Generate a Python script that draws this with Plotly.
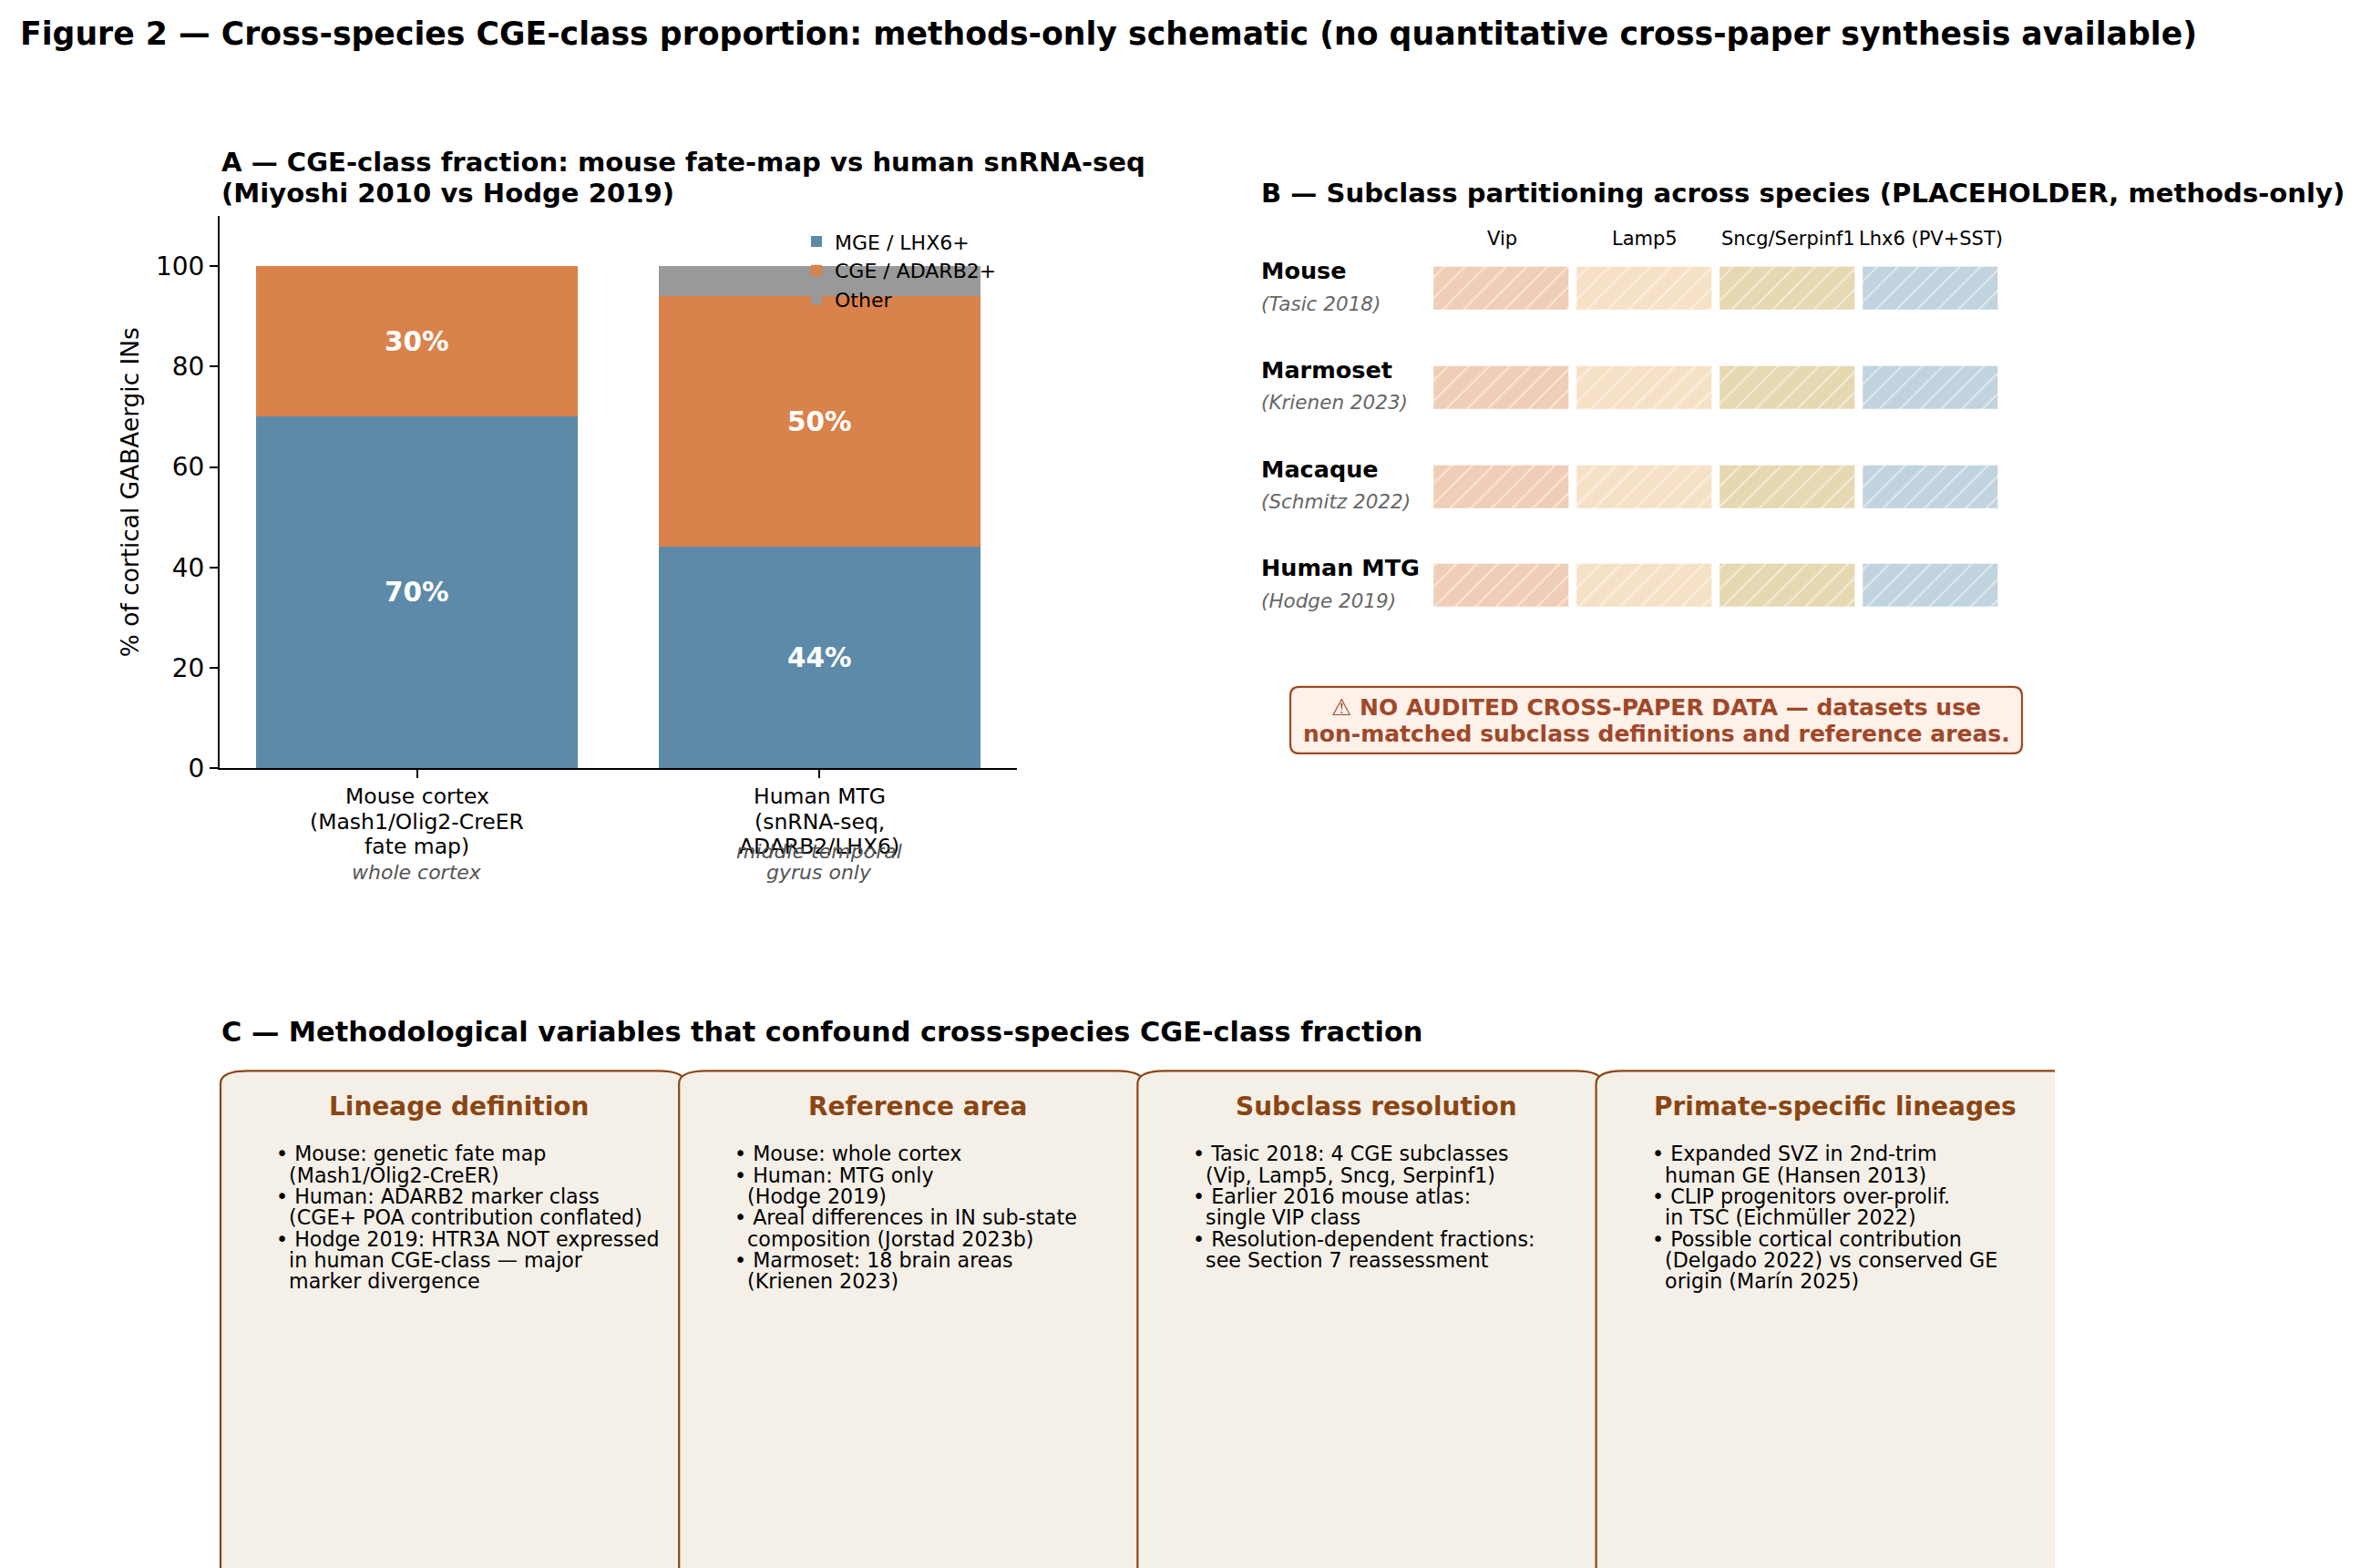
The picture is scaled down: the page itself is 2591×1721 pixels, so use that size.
import plotly.graph_objects as go

W, H = 2591, 1721
HR = 1702  # effective drawn height observed in the renderer
FONT = "DejaVu Sans"


def px(x):
    return x / W


def py(y):
    return 1 - y / HR


# ---------------- data ----------------
categories_A = ["Mouse cortex\n(Mash1/Olig2-CreER\nfate map)", "Human MTG\n(snRNA-seq,\nADARB2/LHX6)"]
notes_A = ["whole cortex", "middle temporal\ngyrus only"]
mge = [70, 44]
cge = [30, 50]
other = [0, 6]
series_names = ["MGE / LHX6+", "CGE / ADARB2+", "Other"]
series_colors = ["#5d8aa8", "#d9824b", "#999999"]

subclasses = ["Vip", "Lamp5", "Sncg/Serpinf1", "Lhx6 (PV+SST)"]
subclass_colors = ["#f0cdb6", "#f6e1c7", "#e6d8b1", "#c1d3de"]
species = ["Mouse", "Marmoset", "Macaque", "Human MTG"]
species_refs = ["(Tasic 2018)", "(Krienen 2023)", "(Schmitz 2022)", "(Hodge 2019)"]

warning_lines = ["\u26a0 NO AUDITED CROSS-PAPER DATA \u2014 datasets use",
                 "non-matched subclass definitions and reference areas."]

card_titles = ["Lineage definition", "Reference area", "Subclass resolution", "Primate-specific lineages"]
card_bullets = [
    ["\u2022 Mouse: genetic fate map", "  (Mash1/Olig2-CreER)",
     "\u2022 Human: ADARB2 marker class", "  (CGE+ POA contribution conflated)",
     "\u2022 Hodge 2019: HTR3A NOT expressed", "  in human CGE-class \u2014 major", "  marker divergence"],
    ["\u2022 Mouse: whole cortex", "\u2022 Human: MTG only", "  (Hodge 2019)",
     "\u2022 Areal differences in IN sub-state", "  composition (Jorstad 2023b)",
     "\u2022 Marmoset: 18 brain areas", "  (Krienen 2023)"],
    ["\u2022 Tasic 2018: 4 CGE subclasses", "  (Vip, Lamp5, Sncg, Serpinf1)",
     "\u2022 Earlier 2016 mouse atlas:", "  single VIP class",
     "\u2022 Resolution-dependent fractions:", "  see Section 7 reassessment"],
    ["\u2022 Expanded SVZ in 2nd-trim", "  human GE (Hansen 2013)",
     "\u2022 CLIP progenitors over-prolif.", "  in TSC (Eichm\u00fcller 2022)",
     "\u2022 Possible cortical contribution", "  (Delgado 2022) vs conserved GE", "  origin (Mar\u00edn 2025)"],
]

fig = go.Figure()
annotations = []
shapes = []


def ann(**kw):
    kw.setdefault("showarrow", False)
    kw.setdefault("xanchor", "center")
    kw.setdefault("yanchor", "middle")
    annotations.append(kw)


# ---------------- Panel A: stacked bars ----------------
xA = list(range(len(categories_A)))
base = [0] * len(xA)
for name, vals, color in zip(series_names, [mge, cge, other], series_colors):
    fig.add_trace(go.Bar(
        x=xA, y=vals, base=list(base), width=0.8, name=name,
        marker=dict(color=color, line=dict(width=0)),
        xaxis="x", yaxis="y", hoverinfo="skip",
    ))
    for i, v in enumerate(vals):
        if v >= 10:
            ann(x=i, y=base[i] + v / 2, xref="x", yref="y", text=f"{v}%",
                font=dict(family=FONT, size=29.5, color="white", weight="bold"))
    base = [b + v for b, v in zip(base, vals)]

for i, (cat, note) in enumerate(zip(categories_A, notes_A)):
    for k, line in enumerate(cat.split("\n")):
        ann(x=i, y=py(873 + 27.7 * k), xref="x", yref="paper", text=line,
            font=dict(family=FONT, size=23.5, color="black"))
    nlines = note.split("\n")
    for k, line in enumerate(nlines):
        ann(x=i, y=py(956 - 23 * (len(nlines) - 1 - k)), xref="x", yref="paper", text=line,
            font=dict(family=FONT, size=22, color="#555555", style="italic"))

ann(x=px(142), y=py(539.5), xref="paper", yref="paper", text="% of cortical GABAergic INs",
    textangle=-90, font=dict(family=FONT, size=26.4, color="black"))

# ---------------- Panel B: placeholder grid ----------------
nrow = len(species)
for j, (sub, col) in enumerate(zip(subclasses, subclass_colors)):
    fig.add_trace(go.Bar(
        x=[j] * nrow, y=[0.442] * nrow, base=[i - 0.221 for i in range(nrow)], width=0.943,
        marker=dict(color=col, line=dict(width=1.5, color="rgba(255,255,255,0.55)"),
                    pattern=dict(shape="/", fgcolor="white", bgcolor=col, fgopacity=0.5,
                                 size=16, solidity=0.12)),
        xaxis="x2", yaxis="y2", showlegend=False, hoverinfo="skip", name=sub,
    ))
    ann(x=j, y=py(262), xref="x2", yref="paper", text=sub,
        font=dict(family=FONT, size=21, color="black"))
for i, (sp, ref) in enumerate(zip(species, species_refs)):
    ann(x=px(1382), y=i - 0.184, xref="paper", yref="y2", text=sp, xanchor="left",
        font=dict(family=FONT, size=25.5, color="black", weight="bold"))
    ann(x=px(1382), y=i + 0.147, xref="paper", yref="y2", text=ref, xanchor="left",
        font=dict(family=FONT, size=21.5, color="#666666", style="italic"))

# warning box
bL, bR, bT, bB, r = 1416, 2219, 753, 826, 10
shapes.append(dict(
    type="path", xref="paper", yref="paper",
    path=(f"M{px(bL + r)},{py(bT)} L{px(bR - r)},{py(bT)} Q{px(bR)},{py(bT)} {px(bR)},{py(bT + r)} "
          f"L{px(bR)},{py(bB - r)} Q{px(bR)},{py(bB)} {px(bR - r)},{py(bB)} "
          f"L{px(bL + r)},{py(bB)} Q{px(bL)},{py(bB)} {px(bL)},{py(bB - r)} "
          f"L{px(bL)},{py(bT + r)} Q{px(bL)},{py(bT)} {px(bL + r)},{py(bT)} Z"),
    fillcolor="#fdf1e9", line=dict(color="#a0482a", width=2.2), layer="below",
))
for k, line in enumerate(warning_lines):
    ann(x=px(1817.5), y=py(776 + 29 * k), xref="paper", yref="paper", text=line,
        font=dict(family=FONT, size=25, color="#a0482a", weight="bold"))

# ---------------- Panel C: cards ----------------
cT, cBot, rx, ry = 1174, 1800, 30, 14
clipR = 2255
for c, (title, bullets) in enumerate(zip(card_titles, card_bullets)):
    L = 242 + 503.2 * c
    R = L + 510
    if R <= clipR:
        fill_path = (f"M{px(L)},{py(cBot)} L{px(L)},{py(cT + ry)} Q{px(L)},{py(cT)} {px(L + rx)},{py(cT)} "
                     f"L{px(R - rx)},{py(cT)} Q{px(R)},{py(cT)} {px(R)},{py(cT + ry)} L{px(R)},{py(cBot)} Z")
        shapes.append(dict(type="path", xref="paper", yref="paper", path=fill_path,
                           fillcolor="#f4efe7", line=dict(color="#8b4513", width=2.2)))
    else:
        fill_path = (f"M{px(L)},{py(cBot)} L{px(L)},{py(cT + ry)} Q{px(L)},{py(cT)} {px(L + rx)},{py(cT)} "
                     f"L{px(clipR)},{py(cT)} L{px(clipR)},{py(cBot)} Z")
        shapes.append(dict(type="path", xref="paper", yref="paper", path=fill_path,
                           fillcolor="#f4efe7", line=dict(width=0)))
        edge_path = (f"M{px(L)},{py(cBot)} L{px(L)},{py(cT + ry)} Q{px(L)},{py(cT)} {px(L + rx)},{py(cT)} "
                     f"L{px(clipR)},{py(cT)}")
        shapes.append(dict(type="path", xref="paper", yref="paper", path=edge_path,
                           fillcolor="rgba(0,0,0,0)", line=dict(color="#8b4513", width=2.2)))
    ann(x=px(L + 262), y=py(1213), xref="paper", yref="paper", text=title,
        font=dict(family=FONT, size=28, color="#8b4513", weight="bold"))
    for k, line in enumerate(bullets):
        ann(x=px(L + 59), y=py(1265 + 23.3 * k), xref="paper", yref="paper",
            text=line.replace(" ", "\u00a0") if line.startswith("  ") else line,
            xanchor="left", font=dict(family=FONT, size=22.2, color="black"))

# ---------------- titles ----------------
ann(x=px(20), y=py(37), xref="paper", yref="paper", xanchor="left",
    text="Figure 2 \u2014 Cross-species CGE-class proportion: methods-only schematic "
         "(no quantitative cross-paper synthesis available)",
    font=dict(family=FONT, size=34.7, color="black", weight="bold"))
ann(x=px(241), y=py(178), xref="paper", yref="paper", xanchor="left",
    text="A \u2014 CGE-class fraction: mouse fate-map vs human snRNA-seq",
    font=dict(family=FONT, size=29.1, color="black", weight="bold"))
ann(x=px(241), y=py(212), xref="paper", yref="paper", xanchor="left",
    text="(Miyoshi 2010 vs Hodge 2019)",
    font=dict(family=FONT, size=29.1, color="black", weight="bold"))
ann(x=px(1382), y=py(212), xref="paper", yref="paper", xanchor="left",
    text="B \u2014 Subclass partitioning across species (PLACEHOLDER, methods-only)",
    font=dict(family=FONT, size=29.1, color="black", weight="bold"))
ann(x=px(241), y=py(1131), xref="paper", yref="paper", xanchor="left",
    text="C \u2014 Methodological variables that confound cross-species CGE-class fraction",
    font=dict(family=FONT, size=30.4, color="black", weight="bold"))

fig.update_layout(
    width=W, height=H, autosize=False, margin=dict(l=0, r=0, t=0, b=0),
    paper_bgcolor="white", plot_bgcolor="white",
    barmode="overlay", bargap=0,
    font=dict(family=FONT, color="black"),
    xaxis=dict(domain=[px(241), px(1116)], range=[-0.49, 1.49], anchor="y",
               showline=True, linecolor="black", linewidth=2, ticks="outside", ticklen=9,
               tickwidth=2, tickcolor="black", tickvals=xA, showticklabels=False,
               showgrid=False, zeroline=False, fixedrange=True),
    yaxis=dict(domain=[py(842), py(237)], range=[0, 110], anchor="x",
               showline=True, linecolor="black", linewidth=2, ticks="outside", ticklen=9,
               tickwidth=2, tickcolor="black", tickvals=[0, 20, 40, 60, 80, 100],
               tickfont=dict(family=FONT, size=28, color="black"),
               showgrid=False, zeroline=False, fixedrange=True),
    xaxis2=dict(domain=[px(1569.5), px(2197.5)], range=[-0.5, 3.5], anchor="y2", visible=False,
                fixedrange=True),
    yaxis2=dict(domain=[py(696.75), py(262.75)], range=[3.5, -0.5], anchor="x2", visible=False,
                fixedrange=True),
    legend=dict(x=px(876), y=py(244), xanchor="left", yanchor="top", traceorder="normal",
                bgcolor="rgba(0,0,0,0)", borderwidth=0, tracegroupgap=0,
                font=dict(family=FONT, size=22, color="black")),
    annotations=annotations,
    shapes=shapes,
)

fig.write_html("out.html")
